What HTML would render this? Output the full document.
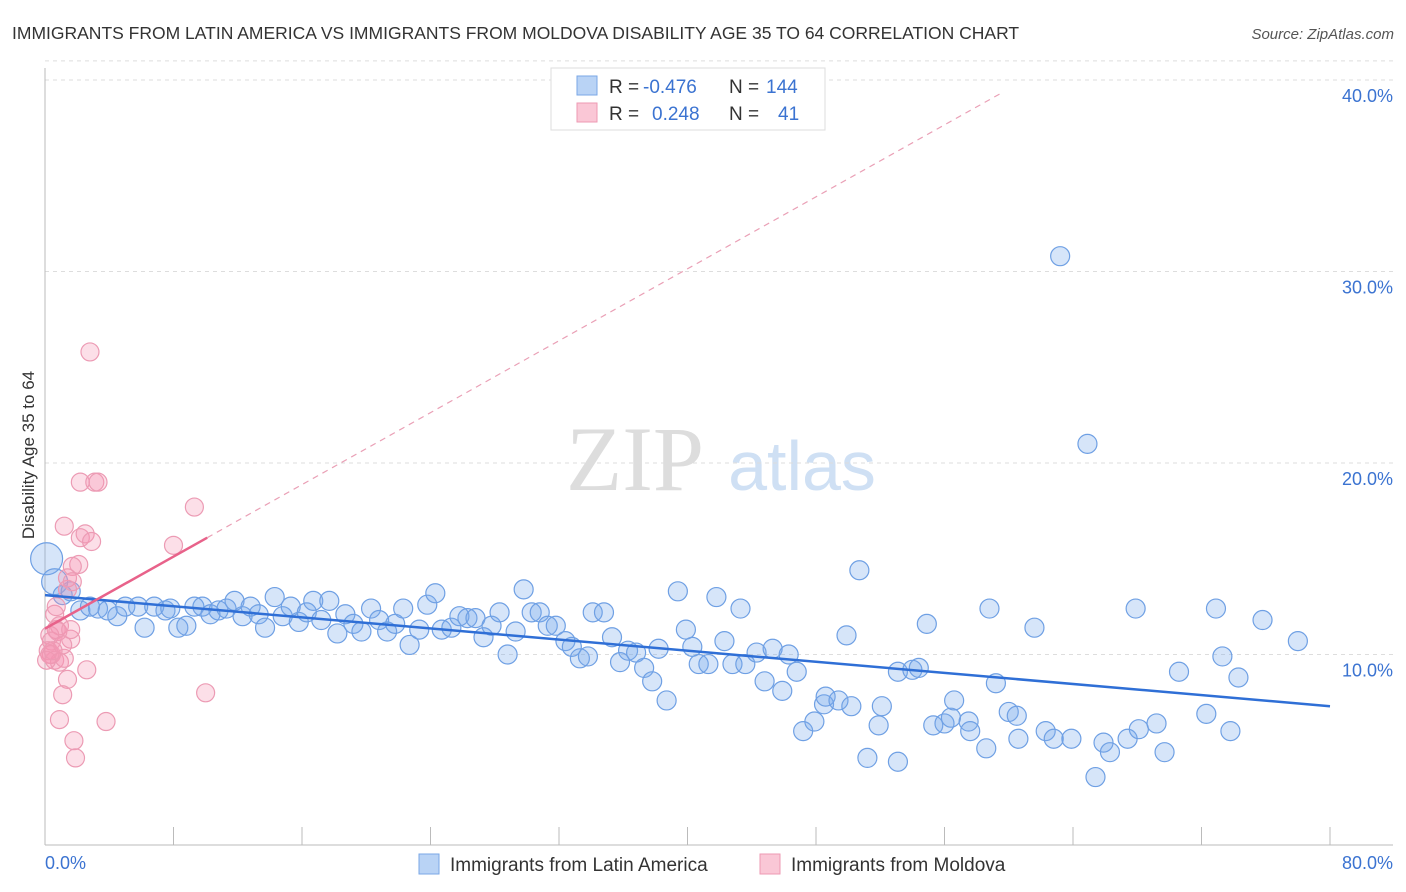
<!DOCTYPE html>
<html><head><meta charset="utf-8"><style>
body{margin:0;background:#fff;font-family:"Liberation Sans",sans-serif}
svg{display:block}
</style></head><body>
<svg id="chart" width="1406" height="892" xmlns="http://www.w3.org/2000/svg">
<text x="12" y="39" font-size="17.5" fill="#333">IMMIGRANTS FROM LATIN AMERICA VS IMMIGRANTS FROM MOLDOVA DISABILITY AGE 35 TO 64 CORRELATION CHART</text>
<text x="1394" y="39" font-size="15" fill="#555" font-style="italic" text-anchor="end">Source: ZipAtlas.com</text>
<g>
<text x="635" y="490" font-size="92" fill="#ddd" font-family="Liberation Serif,serif" text-anchor="middle">ZIP</text>
<text x="802" y="490" font-size="70" fill="#cfe0f4" text-anchor="middle">atlas</text>
</g>
<g id="grid"></g><g id="axes"></g>
<g id="pts"></g><g id="lines"></g>
<text transform="translate(34,455) rotate(-90)" font-size="17" fill="#333" text-anchor="middle">Disability Age 35 to 64</text>
<text x="45" y="869" font-size="18" fill="#3b73d1">0.0%</text>
<text x="1393" y="869" font-size="18" fill="#3b73d1" text-anchor="end">80.0%</text>
<g>
<rect x="419" y="854" width="20" height="20" fill="#b9d3f5" stroke="#7aa7e6"/>
<text x="450" y="871" font-size="19" fill="#333">Immigrants from Latin America</text>
<rect x="760" y="854" width="20" height="20" fill="#fac7d6" stroke="#ee9ab3"/>
<text x="791" y="871" font-size="19" fill="#333">Immigrants from Moldova</text>
</g>
<g>
<rect x="551" y="68" width="274" height="62" fill="#fff" stroke="#ddd"/>
<rect x="577" y="76" width="20" height="19" fill="#b9d3f5" stroke="#7aa7e6"/>
<rect x="577" y="103" width="20" height="19" fill="#fac7d6" stroke="#ee9ab3"/>
<text x="609" y="93" font-size="19" fill="#333">R =</text>
<text x="643" y="93" font-size="19" fill="#3b73d1">-0.476</text>
<text x="729" y="93" font-size="19" fill="#333">N =</text>
<text x="766" y="93" font-size="19" fill="#3b73d1">144</text>
<text x="609" y="120" font-size="19" fill="#333">R =</text>
<text x="652" y="120" font-size="19" fill="#3b73d1">0.248</text>
<text x="729" y="120" font-size="19" fill="#333">N =</text>
<text x="778" y="120" font-size="19" fill="#3b73d1">41</text>
</g>
</svg>
<script>
const yTicks=[10,20,30,40];
const yTickLabels=["10.0%","20.0%","30.0%","40.0%"];
const xTicks=[0,8,16,24,32,40,48,56,64,72,80];
const blueX=[0.1,0.6,1.1,1.6,2.2,2.8,3.3,3.9,4.5,5.0,5.8,6.2,6.8,7.5,7.8,8.3,8.8,9.3,9.8,10.3,10.8,11.3,11.8,12.3,12.8,13.3,13.7,14.3,14.8,15.3,15.8,16.3,16.7,17.2,17.7,18.2,18.7,19.2,19.7,20.3,20.8,21.3,21.8,22.3,22.7,23.3,23.8,24.3,24.7,25.3,25.8,26.3,26.8,27.3,27.8,28.3,28.8,29.3,29.8,30.3,30.8,31.3,31.8,32.4,32.8,33.3,33.8,34.1,34.8,35.3,35.8,36.3,36.8,37.3,37.8,38.2,38.7,39.4,39.9,40.3,40.7,41.3,41.8,42.3,42.8,43.3,43.6,44.3,44.8,45.3,45.9,46.3,46.8,47.2,47.9,48.5,48.6,49.4,49.9,50.2,50.7,51.2,51.9,52.1,53.1,53.1,54.0,54.4,54.9,55.3,56.0,56.4,56.6,57.5,57.6,58.6,58.8,59.2,60.0,60.5,60.6,61.6,62.3,62.8,63.9,63.2,64.9,65.4,65.9,66.3,67.4,67.9,68.1,69.2,69.7,70.6,72.3,72.9,73.3,73.8,74.3,75.8,78.0];
const blueY=[15.0,13.8,13.1,13.3,12.3,12.5,12.4,12.3,12.0,12.5,12.5,11.4,12.5,12.3,12.4,11.4,11.5,12.5,12.5,12.1,12.3,12.4,12.8,12.0,12.5,12.1,11.4,13.0,12.0,12.5,11.7,12.2,12.8,11.8,12.8,11.1,12.1,11.6,11.2,12.4,11.8,11.2,11.6,12.4,10.5,11.3,12.6,13.2,11.3,11.4,12.0,11.9,11.9,10.9,11.5,12.2,10.0,11.2,13.4,12.2,12.2,11.5,11.5,10.7,10.4,9.8,9.9,12.2,12.2,10.9,9.6,10.2,10.1,9.3,8.6,10.3,7.6,13.3,11.3,10.4,9.5,9.5,13.0,10.7,9.5,12.4,9.5,10.1,8.6,10.3,8.1,10.0,9.1,6.0,6.5,7.4,7.8,7.6,11.0,7.3,14.4,4.6,6.3,7.3,4.4,9.1,9.2,9.3,11.6,6.3,6.4,6.7,7.6,6.5,6.0,5.1,12.4,8.5,7.0,6.8,5.6,11.4,6.0,5.6,5.6,30.8,21.0,3.6,5.4,4.9,5.6,12.4,6.1,6.4,4.9,9.1,6.9,12.4,9.9,6.0,8.8,11.8,10.7];
const pinkX=[2.8,2.2,3.1,3.3,9.3,1.2,2.2,2.5,2.9,8.0,2.1,1.7,1.4,1.4,1.7,0.6,0.9,0.7,0.3,0.4,1.6,0.2,0.4,0.6,0.9,2.6,1.4,1.1,10.0,0.9,3.8,1.8,1.9,0.3,0.1,0.8,1.2,1.1,0.7,0.5,1.6];
const pinkY=[25.8,19.0,19.0,19.0,17.7,16.7,16.1,16.3,15.9,15.7,14.7,14.6,14.0,13.4,13.8,12.1,11.5,11.3,11.0,10.7,10.8,10.2,10.0,9.7,9.6,9.2,8.7,7.9,8.0,6.6,6.5,5.5,4.6,10.0,9.7,11.2,9.8,10.5,12.5,10.2,11.3];
const blueTrend=[13.1,7.3];
const pinkTrend=[11.35,16.1,39.3];
const pinkTrendX=[0,10.1,59.5];
const NS="http://www.w3.org/2000/svg";
const X=v=>45+v/80*1285;
const Y=v=>846-v*19.15;
function mk(tag,attrs,parent){const e=document.createElementNS(NS,tag);for(const k in attrs)e.setAttribute(k,attrs[k]);document.getElementById(parent).appendChild(e);return e;}
yTicks.forEach((t,i)=>{
 const l=mk('line',{x1:45,x2:1393,y1:Y(t),y2:Y(t),stroke:'#ddd','stroke-dasharray':'4,4'},'grid');
 
 
 const tx=mk('text',{x:1393,y:Y(t)+22,'font-size':18,fill:'#3b73d1','text-anchor':'end'},'grid');
 tx.textContent=yTickLabels[i];
 
 
});
const tl=mk('line',{x1:45,x2:1393,y1:Y(41),y2:Y(41),stroke:'#ddd','stroke-dasharray':'4,4'},'grid');


const ya=mk('line',{x1:45,x2:45,y1:68,y2:845,stroke:'#bbb'},'axes');


const xa=mk('line',{x1:45,x2:1393,y1:845,y2:845,stroke:'#bbb'},'axes');


xTicks.forEach(t=>{
 const k=mk('line',{x1:X(t),x2:X(t),y1:827,y2:845,stroke:'#bbb'},'axes');
 
 
});
blueX.forEach((v,i)=>{
 const r=i===0?16:(i===1?13:9.5);
 const c=mk('circle',{cx:X(v),cy:Y(blueY[i]),r:r,fill:'rgba(120,170,235,0.3)',stroke:'#6fa0e4','stroke-width':1.2},'pts');
 
 
});
pinkX.forEach((v,i)=>{
 const c=mk('circle',{cx:X(v),cy:Y(pinkY[i]),r:9,fill:'rgba(245,150,180,0.3)',stroke:'#ec9bb4','stroke-width':1.2},'pts');
 
 
});
const bl=mk('line',{x1:X(0),y1:Y(blueTrend[0]),x2:X(80),y2:Y(blueTrend[1]),stroke:'#2f6fd6','stroke-width':2.5},'lines');


const pl=mk('line',{x1:X(pinkTrendX[0]),y1:Y(pinkTrend[0]),x2:X(pinkTrendX[1]),y2:Y(pinkTrend[1]),stroke:'#e8628a','stroke-width':2.5},'lines');


const pd=mk('line',{x1:X(pinkTrendX[1]),y1:Y(pinkTrend[1]),x2:X(pinkTrendX[2]),y2:Y(pinkTrend[2]),stroke:'#eaa0b6','stroke-width':1.2,'stroke-dasharray':'6,5'},'lines');


</script>
</body></html>
